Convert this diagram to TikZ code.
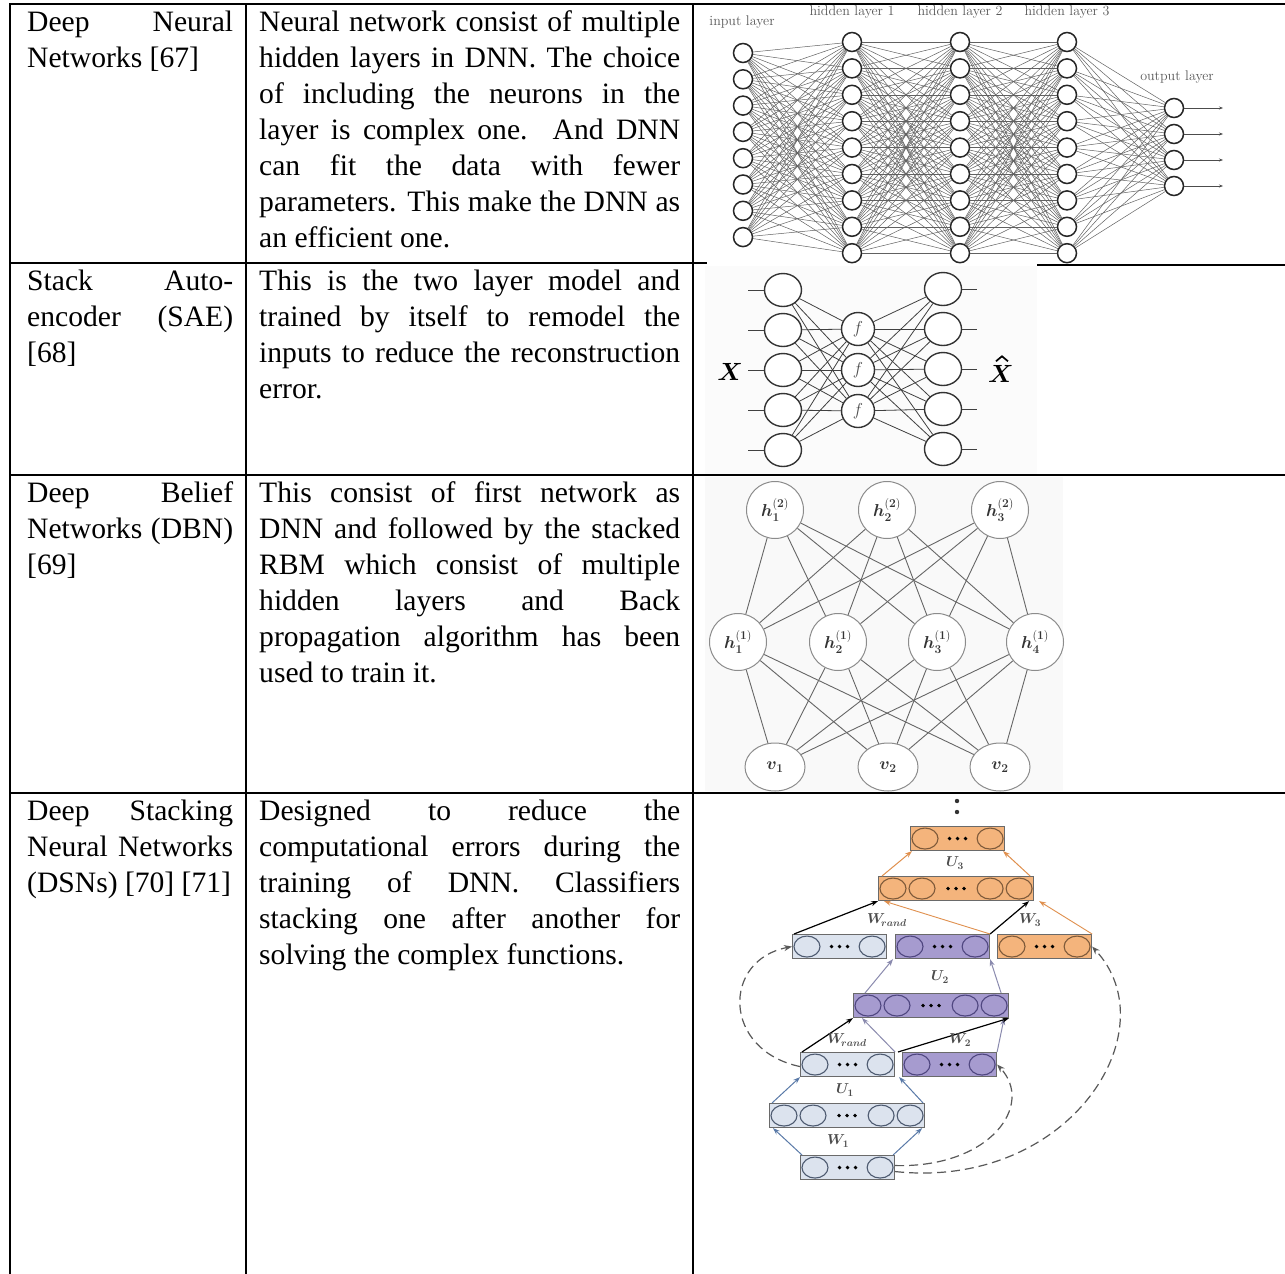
\documentclass[tikz,border=0pt]{standalone}
\usepackage{fontspec}
\usepackage{amsmath}
\usepackage{bm}
\usetikzlibrary{arrows.meta,shapes.geometric}
\newfontfamily\tnr{Liberation Serif}
\newcommand\tx{\tnr\fontsize{29.6}{36}\selectfont}
\newcommand\jl[2]{\makebox[#1pt][s]{#2}}
\definecolor{orF}{HTML}{F4B47C}
\definecolor{orS}{HTML}{7E5A3A}
\definecolor{orA}{HTML}{E0904E}
\definecolor{puF}{HTML}{A69BCF}
\definecolor{puS}{HTML}{4F4680}
\definecolor{puA}{HTML}{8A8AAE}
\definecolor{lbF}{HTML}{DCE3EE}
\definecolor{lbS}{HTML}{4D5A70}
\definecolor{lbA}{HTML}{5A7AA8}
\definecolor{boxS}{HTML}{6A6A6A}
\newcommand\dsndots[1]{%
  \fill[black] ([xshift=-8pt]#1.center) circle (1.9pt);
  \fill[black] (#1.center) circle (1.9pt);
  \fill[black] ([xshift=8pt]#1.center) circle (1.9pt);}
\newcommand\narrowbox[5]{%
  \node[dbox, fill=#4, minimum width=94pt, anchor=north west] (#1) at (#2,#3) {};
  \draw[fill=#4, draw=#5, line width=1.1pt] ([xshift=15pt]#1.west) ellipse [x radius=13pt, y radius=10.5pt];
  \draw[fill=#4, draw=#5, line width=1.1pt] ([xshift=-15pt]#1.east) ellipse [x radius=13pt, y radius=10.5pt];
  \dsndots{#1}}
\newcommand\widebox[5]{%
  \node[dbox, fill=#4, minimum width=155pt, anchor=north west] (#1) at (#2,#3) {};
  \draw[fill=#4, draw=#5, line width=1.1pt] ([xshift=15pt]#1.west) ellipse [x radius=13pt, y radius=10.5pt];
  \draw[fill=#4, draw=#5, line width=1.1pt] ([xshift=44pt]#1.west) ellipse [x radius=13pt, y radius=10.5pt];
  \draw[fill=#4, draw=#5, line width=1.1pt] ([xshift=-44pt]#1.east) ellipse [x radius=13pt, y radius=10.5pt];
  \draw[fill=#4, draw=#5, line width=1.1pt] ([xshift=-15pt]#1.east) ellipse [x radius=13pt, y radius=10.5pt];
  \dsndots{#1}}
\begin{document}
\begin{tikzpicture}[x=1pt,y=-1pt,
  tline/.style={line width=2pt, black},
  txt/.style={anchor=base west, inner sep=0, font=\tx},
  neu/.style={circle, draw=black!85, line width=1.5pt, fill=white, minimum size=19pt, inner sep=0},
  dnnline/.style={line width=0.5pt, black!62},
  dnnlab/.style={font=\fontsize{14}{14}\selectfont, text=black!65, inner sep=0},
  sae/.style={ellipse, draw=black!80, line width=1.4pt, fill=white, minimum width=37pt, minimum height=33pt, inner sep=0},
  saeh/.style={circle, draw=black!80, line width=1.4pt, fill=white, minimum size=33pt, inner sep=0, font=\fontsize{17}{17}\selectfont, text=black!70},
  saeline/.style={line width=0.8pt, black!75},
  dbn/.style={circle, draw=black!45, line width=1pt, fill=white, minimum size=57pt, inner sep=0, font=\fontsize{17}{17}\selectfont, text=black!80},
  dbnv/.style={ellipse, draw=black!45, line width=1pt, fill=white, minimum width=60pt, minimum height=48pt, inner sep=0, font=\fontsize{17}{17}\selectfont, text=black!80},
  dbnline/.style={line width=0.9pt, black!60},
  dbox/.style={draw=boxS, line width=1.1pt, minimum height=24pt, inner sep=0},
  dlab/.style={font=\fontsize{14}{14}\selectfont, text=black!70, inner sep=0},
  tip/.style={-{Stealth[length=7pt,width=5pt]}},
  dsh/.style={dashed, dash pattern=on 9pt off 5pt, line width=1.2pt, black!65, -{Stealth[length=8pt,width=6pt]}}
]
\useasboundingbox (0,0) rectangle (1285,1274);
\fill[white] (0,0) rectangle (1285,1274);

% ---------------- panel backgrounds
\fill[gray!3] (705,266) rectangle (1037,474);
\fill[gray!5] (705,477) rectangle (1063,791);

% ---------------- DNN
\node[dnnlab] (lin) at (742,22) {input layer};
\node[dnnlab] (lh1) at (852,12) {hidden layer 1};
\node[dnnlab] (lh2) at (960,12) {hidden layer 2};
\node[dnnlab] (lh3) at (1067,12) {hidden layer 3};
\node[dnnlab] (lout) at (1177,77) {output layer};
\foreach \k in {1,...,8} \node[neu] (in\k) at (743,{53+26.3*(\k-1)}) {};
\foreach \L/\xx in {a/852,b/960,c/1067}
  \foreach \k in {1,...,9} \node[neu] (h\L\k) at (\xx,{42+26.4*(\k-1)}) {};
\foreach \k in {1,...,4} \node[neu] (out\k) at (1174,{108+26*(\k-1)}) {};
\foreach \i in {1,...,8} \foreach \j in {1,...,9} \draw[dnnline] (in\i) -- (ha\j);
\foreach \i in {1,...,9} \foreach \j in {1,...,9} {\draw[dnnline] (ha\i) -- (hb\j); \draw[dnnline] (hb\i) -- (hc\j);}
\foreach \i in {1,...,9} \foreach \j in {1,...,4} \draw[dnnline] (hc\i) -- (out\j);
\foreach \k in {1,...,4} {
  \coordinate (oe\k) at (1223,{108+26*(\k-1)});
  \draw[-{Stealth[length=4pt,width=3pt]}, line width=0.7pt, black!70] (out\k) -- (oe\k);}

% ---------------- SAE
\foreach \k in {1,...,5} {
  \node[sae] (si\k) at (783,{290+40*(\k-1)}) {};
  \node[sae] (so\k) at (943,{289+40*(\k-1)}) {};
  \coordinate (sil\k) at (748,{290+40*(\k-1)});
  \coordinate (sor\k) at (977,{289+40*(\k-1)});
  \draw[saeline] (sil\k) -- (si\k);
  \draw[saeline] (so\k) -- (sor\k);}
\foreach \k/\yy in {1/329,2/370,3/411} \node[saeh] (sh\k) at (858,\yy) {$f$};
\foreach \i in {1,...,5} \foreach \j in {1,...,3} {\draw[saeline] (si\i) -- (sh\j); \draw[saeline] (sh\j) -- (so\i);}
\node[inner sep=0, font=\fontsize{30}{30}\selectfont] (xin) at (730,372) {$\bm{X}$};
\node[inner sep=0, font=\fontsize{30}{30}\selectfont, anchor=west] (xout) at (988,374) {$\bm{X}$};
\draw[line width=1.7pt, line join=miter] ([xshift=-5pt,yshift=4pt]xout.north) -- ([xshift=1pt,yshift=9pt]xout.north) -- ([xshift=7pt,yshift=4pt]xout.north);

% ---------------- DBN
\node[dbn] (t1) at (775,510) {$\bm{h}^{(\bm{2})}_{\bm{1}}$};
\node[dbn] (t2) at (887,510) {$\bm{h}^{(\bm{2})}_{\bm{2}}$};
\node[dbn] (t3) at (1000,510) {$\bm{h}^{(\bm{2})}_{\bm{3}}$};
\node[dbn] (m1) at (738,642) {$\bm{h}^{(\bm{1})}_{\bm{1}}$};
\node[dbn] (m2) at (838,642) {$\bm{h}^{(\bm{1})}_{\bm{2}}$};
\node[dbn] (m3) at (937,642) {$\bm{h}^{(\bm{1})}_{\bm{3}}$};
\node[dbn] (m4) at (1035,642) {$\bm{h}^{(\bm{1})}_{\bm{4}}$};
\node[dbnv] (v1) at (775,767) {$\bm{v}_{\bm{1}}$};
\node[dbnv] (v2) at (888,767) {$\bm{v}_{\bm{2}}$};
\node[dbnv] (v3) at (1000,767) {$\bm{v}_{\bm{2}}$};
\foreach \i in {1,2,3} \foreach \j in {1,...,4} {\draw[dbnline] (t\i) -- (m\j); \draw[dbnline] (m\j) -- (v\i);}

% ---------------- DSN
\fill[black!80] (957,801) circle (2.2pt);
\fill[black!80] (957,812) circle (2.2pt);
\narrowbox{O1}{910}{826}{orF}{orS}
\widebox{O2}{878}{876}{orF}{orS}
\narrowbox{L3}{792}{934}{lbF}{lbS}
\narrowbox{P3}{895}{934}{puF}{puS}
\narrowbox{O3}{997}{934}{orF}{orS}
\widebox{P4}{853}{993}{puF}{puS}
\narrowbox{L5}{800}{1052}{lbF}{lbS}
\narrowbox{P5}{902}{1052}{puF}{puS}
\widebox{L6}{769}{1103}{lbF}{lbS}
\narrowbox{L7}{800}{1155}{lbF}{lbS}
% arrows
\draw[tip, orA, line width=1pt] ([xshift=4pt]O2.north west) -- ([xshift=2pt]O1.south west);
\draw[tip, orA, line width=1pt] ([xshift=-4pt]O2.north east) -- ([xshift=-2pt]O1.south east);
\draw[tip, orA, line width=0.9pt] (P3.north east) -- ([xshift=6pt]O2.south west);
\draw[tip, orA, line width=0.9pt] (O3.north east) -- ([xshift=5pt]O2.south east);
\draw[tip, black, line width=1.2pt] ([xshift=2pt]L3.north west) -- (O2.south west);
\draw[tip, black, line width=1.2pt] (P3.north east) -- ([xshift=-5pt]O2.south east);
\draw[tip, puA, line width=1pt] ([xshift=12pt]P4.north west) -- ([xshift=-2pt]P3.south west);
\draw[tip, puA, line width=1pt] ([xshift=-8pt]P4.north east) -- (P3.south east);
\draw[tip, puA, line width=1pt] (L5.north east) -- ([xshift=9pt]P4.south west);
\draw[tip, puA, line width=1pt] (P5.north east) -- ([xshift=-5pt]P4.south east);
\draw[tip, black, line width=1.2pt] ([xshift=2pt]L5.north west) -- (P4.south west);
\draw[tip, black, line width=1.2pt] ([xshift=-4pt]P5.north west) -- (P4.south east);
\draw[tip, lbA, line width=1pt] ([xshift=3pt]L6.north west) -- (L5.south west);
\draw[tip, lbA, line width=1pt] ([xshift=-2pt]L6.north east) -- ([xshift=4pt]L5.south east);
\draw[tip, lbA, line width=1pt] ([xshift=2pt]L7.north west) -- ([xshift=4pt]L6.south west);
\draw[tip, lbA, line width=1pt] ([xshift=-2pt]L7.north east) -- ([xshift=-3pt]L6.south east);
\draw[dsh] ([yshift=-2pt]L5.west) .. controls (722,1050) and (722,960) .. (L3.west);
\draw[dsh] ([yshift=2pt]L7.east) .. controls (990,1168) and (1035,1105) .. (P5.east);
\draw[dsh] ([yshift=-4pt]L7.east) .. controls (1070,1190) and (1170,1030) .. (O3.east);
% labels
\node[dlab] (u3) at (955,863) {$\bm{U}_{\bm{3}}$};
\node[dlab] (wr1) at (887,920) {$\bm{W}_{\!\bm{rand}}$};
\node[dlab] (w3) at (1030,920) {$\bm{W}_{\bm{3}}$};
\node[dlab] (u2) at (940,977) {$\bm{U}_{\bm{2}}$};
\node[dlab] (wr2) at (847,1040) {$\bm{W}_{\!\bm{rand}}$};
\node[dlab] (w2) at (960,1040) {$\bm{W}_{\bm{2}}$};
\node[dlab] (u1) at (845,1090) {$\bm{U}_{\bm{1}}$};
\node[dlab] (w1) at (838,1141) {$\bm{W}_{\bm{1}}$};

% ---------------- table lines
\draw[tline] (10,4) -- (1285,4);
\draw[tline] (10,263) -- (707,263);
\draw[tline] (1037,265) -- (1285,265);
\draw[tline] (10,475) -- (1285,475);
\draw[tline] (10,793) -- (1285,793);
\draw[tline] (10,3) -- (10,1274);
\draw[tline] (246,3) -- (246,1274);
\draw[tline] (693,3) -- (693,1274);

% ---------------- text row 1
\node[txt] (a11) at (27,31) {\jl{206}{Deep Neural}};
\node[txt] (a12) at (27,67) {Networks [67]};
\node[txt] (b11) at (259,31) {\jl{421}{Neural network consist of multiple}};
\node[txt] (b12) at (259,67) {\jl{421}{hidden layers in DNN. The choice}};
\node[txt] (b13) at (259,103) {\jl{421}{of including the neurons in the}};
\node[txt] (b14) at (259,139) {\jl{421}{layer is complex one. And DNN}};
\node[txt] (b15) at (259,175) {\jl{421}{can fit the data with fewer}};
\node[txt] (b16) at (259,211) {\jl{421}{parameters. This make the DNN as}};
\node[txt] (b17) at (259,247) {an efficient one.};
% row 2
\node[txt] (a21) at (27,290) {\jl{206}{Stack Auto-}};
\node[txt] (a22) at (27,326) {\jl{206}{encoder (SAE)}};
\node[txt] (a23) at (27,362) {[68]};
\node[txt] (b21) at (259,290) {\jl{421}{This is the two layer model and}};
\node[txt] (b22) at (259,326) {\jl{421}{trained by itself to remodel the}};
\node[txt] (b23) at (259,362) {\jl{421}{inputs to reduce the reconstruction}};
\node[txt] (b24) at (259,398) {error.};
% row 3
\node[txt] (a31) at (27,502) {\jl{206}{Deep Belief}};
\node[txt] (a32) at (27,538) {\jl{206}{Networks (DBN)}};
\node[txt] (a33) at (27,574) {[69]};
\node[txt] (b31) at (259,502) {\jl{421}{This consist of first network as}};
\node[txt] (b32) at (259,538) {\jl{421}{DNN and followed by the stacked}};
\node[txt] (b33) at (259,574) {\jl{421}{RBM which consist of multiple}};
\node[txt] (b34) at (259,610) {\jl{421}{hidden layers and Back}};
\node[txt] (b35) at (259,646) {\jl{421}{propagation algorithm has been}};
\node[txt] (b36) at (259,682) {used to train it.};
% row 4
\node[txt] (a41) at (27,820) {\jl{206}{Deep Stacking}};
\node[txt] (a42) at (27,856) {\jl{206}{Neural Networks}};
\node[txt] (a43) at (27,892) {(DSNs) [70] [71]};
\node[txt] (b41) at (259,820) {\jl{421}{Designed to reduce the}};
\node[txt] (b42) at (259,856) {\jl{421}{computational errors during the}};
\node[txt] (b43) at (259,892) {\jl{421}{training of DNN. Classifiers}};
\node[txt] (b44) at (259,928) {\jl{421}{stacking one after another for}};
\node[txt] (b45) at (259,964) {solving the complex functions.};
\end{tikzpicture}
\end{document}
